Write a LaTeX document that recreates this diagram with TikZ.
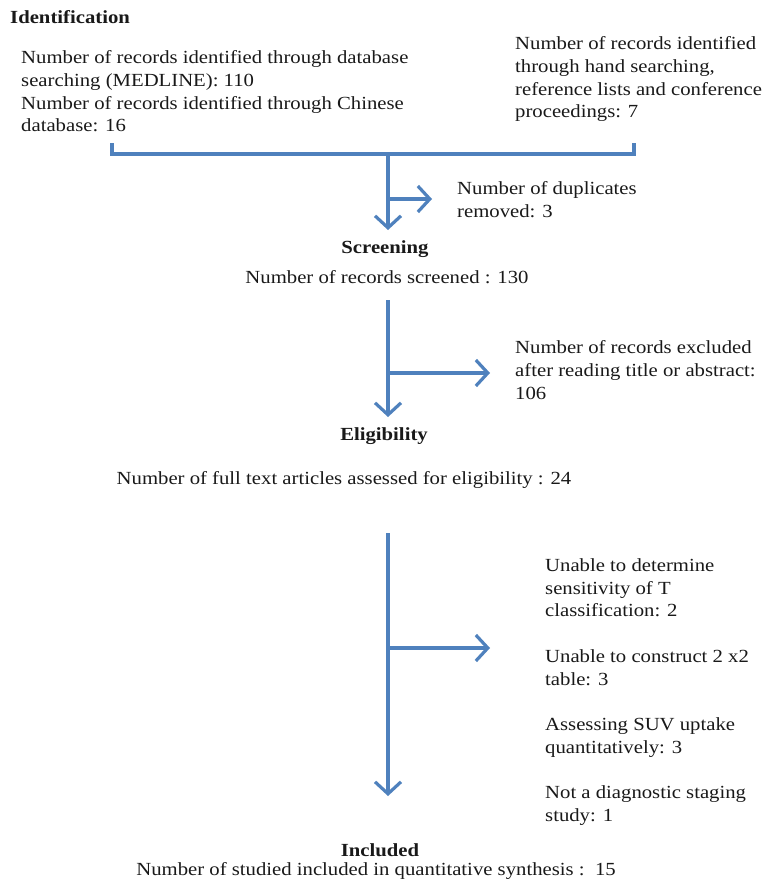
\documentclass[tikz,border=0pt]{standalone}
\usepackage{fontspec}
\setmainfont[FakeStretch=1.12]{Liberation Serif}
\usetikzlibrary{arrows.meta}
\definecolor{flowblue}{RGB}{79,129,189}
\definecolor{txtgray}{RGB}{25,25,25}
\tikzset{
  txt/.style={inner sep=0pt, text=txtgray, align=left,
    font=\fontsize{18.5}{22.7}\selectfont},
  head/.style={txt, font=\fontsize{18.5}{22.7}\selectfont\bfseries},
  flow/.style={draw=flowblue, line width=3.2pt},
  flowarrow/.style={flow, -{Straight Barb[length=12pt,width=26pt,line width=3.2pt]}}
}
\begin{document}
\begin{tikzpicture}[x=1pt,y=-1pt]
\useasboundingbox (0,0) rectangle (764,880);
% texts
\node[head, anchor=north west] (idh) at (10,10.5) {Identification};
\node[txt, anchor=north west] (db) at (21,50.5) {Number of records identified through database\\searching (MEDLINE): 110\\Number of records identified through Chinese\\database: 16};
\node[txt, anchor=north west] (hand) at (515,36.5) {Number of records identified\\through hand searching,\\reference lists and conference\\proceedings: 7};
\node[txt, anchor=north west] (dup) at (457,181.5) {Number of duplicates\\removed: 3};
\node[head] (scr) at (385,249) {Screening};
\node[txt] (scrn) at (387,277) {Number of records screened : 130};
\node[txt, anchor=north west] (excl) at (515,340.5) {Number of records excluded\\after reading title or abstract:\\106};
\node[head] (elig) at (384,436) {Eligibility};
\node[txt] (full) at (344,480) {Number of full text articles assessed for eligibility : 24};
\node[txt, anchor=north west] (reas) at (545,558.5) {Unable to determine\\sensitivity of T\\classification: 2\\[22.7pt]Unable to construct 2 x2\\table: 3\\[22.7pt]Assessing SUV uptake\\quantitatively: 3\\[22.7pt]Not a diagnostic staging\\study: 1};
\node[head] (inc) at (380,850) {Included};
\node[txt] (incn) at (376,871) {Number of studied included in quantitative synthesis :\ \ 15};
% connector coordinates
\coordinate (bl) at (112,143);
\coordinate (br) at (634,143);
\coordinate (bm) at (388,154);
\coordinate (a1) at (388,230);
\coordinate (s1) at (388,199);
\coordinate (d1) at (432,199);
\coordinate (t2) at (388,300);
\coordinate (a2) at (388,417);
\coordinate (s2) at (388,373);
\coordinate (d2) at (490,373);
\coordinate (t3) at (388,533);
\coordinate (a3) at (388,796);
\coordinate (s3) at (388,648);
\coordinate (d3) at (490,648);
% connectors
\draw[flow] (bl) |- (bm) -| (br);
\draw[flowarrow] (bm) -- (a1);
\draw[flowarrow] (s1) -- (d1);
\draw[flowarrow] (t2) -- (a2);
\draw[flowarrow] (s2) -- (d2);
\draw[flowarrow] (t3) -- (a3);
\draw[flowarrow] (s3) -- (d3);
\end{tikzpicture}
\end{document}
